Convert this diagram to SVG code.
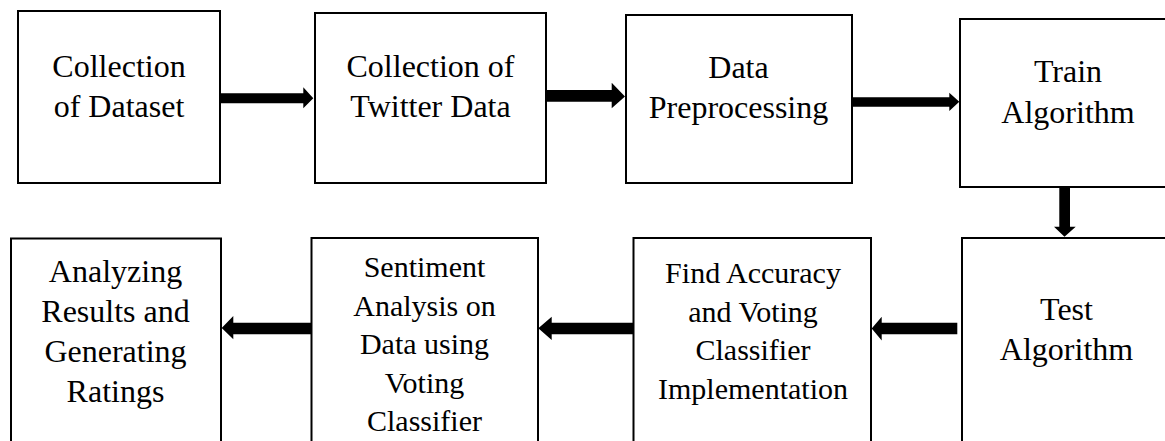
<svg xmlns="http://www.w3.org/2000/svg" width="1165" height="441" viewBox="0 0 1165 441">
  <style>
    .box { fill: #ffffff; stroke: #000000; stroke-width: 2; }
    .lbl { font-family: "Liberation Serif", "Times New Roman", serif; font-size: 32px; fill: #000000; text-anchor: middle; }
    .sm { font-size: 30px; }
    .arrow { fill: #000000; stroke: none; }
  </style>
  <rect width="1165" height="441" fill="#ffffff"/>

  <!-- top row -->
  <g id="node-collection-dataset">
    <rect class="box" x="18" y="11" width="202" height="172"/>
    <text class="lbl" x="119" y="77">Collection</text>
    <text class="lbl" x="119" y="117">of Dataset</text>
  </g>
  <g id="node-collection-twitter">
    <rect class="box" x="315" y="13" width="231" height="170"/>
    <text class="lbl" x="430.5" y="77">Collection of</text>
    <text class="lbl" x="430.5" y="117">Twitter Data</text>
  </g>
  <g id="node-preprocessing">
    <rect class="box" x="626" y="15" width="226" height="168"/>
    <text class="lbl" x="738.5" y="78">Data</text>
    <text class="lbl" x="738.5" y="118">Preprocessing</text>
  </g>
  <g id="node-train">
    <rect class="box" x="960" y="19" width="220" height="168"/>
    <text class="lbl" x="1068" y="82">Train</text>
    <text class="lbl" x="1068" y="123">Algorithm</text>
  </g>

  <!-- bottom row -->
  <g id="node-test">
    <rect class="box" x="962" y="238" width="220" height="220"/>
    <text class="lbl" x="1066.5" y="320">Test</text>
    <text class="lbl" x="1066.5" y="360">Algorithm</text>
  </g>
  <g id="node-accuracy">
    <rect class="box" x="633.5" y="238" width="237.5" height="220"/>
    <text class="lbl sm" x="753" y="283">Find Accuracy</text>
    <text class="lbl sm" x="753" y="321.7">and Voting</text>
    <text class="lbl sm" x="753" y="360.3">Classifier</text>
    <text class="lbl sm" x="753" y="399">Implementation</text>
  </g>
  <g id="node-sentiment">
    <rect class="box" x="311.5" y="238" width="226.5" height="220"/>
    <text class="lbl sm" x="424.5" y="277">Sentiment</text>
    <text class="lbl sm" x="424.5" y="315.5">Analysis on</text>
    <text class="lbl sm" x="424.5" y="354">Data using</text>
    <text class="lbl sm" x="424.5" y="392.5">Voting</text>
    <text class="lbl sm" x="424.5" y="431">Classifier</text>
  </g>
  <g id="node-analyzing">
    <rect class="box" x="11" y="238.5" width="210" height="220"/>
    <text class="lbl" x="115.5" y="281.7">Analyzing</text>
    <text class="lbl" x="115.5" y="321.7">Results and</text>
    <text class="lbl" x="115.5" y="361.7">Generating</text>
    <text class="lbl" x="115.5" y="401.7">Ratings</text>
  </g>

  <!-- block arrows between steps -->
  <g id="connectors">
    <polygon class="arrow" points="220,93.3 303.3,93.3 303.3,87.3 313.3,98.3 303.3,108.3 303.3,103.3 220,103.3"/>
    <polygon class="arrow" points="546,90 611.7,90 611.7,82.7 625,96.5 611.7,108.3 611.7,101.7 546,101.7"/>
    <polygon class="arrow" points="852,97.3 949.3,97.3 949.3,92.7 959.3,101.8 949.3,111 949.3,106.7 852,106.7"/>
    <polygon class="arrow" points="1059.3,187 1070,187 1070,226.7 1075.7,226.7 1064.5,236.7 1054,226.7 1059.3,226.7"/>
    <polygon class="arrow" points="957.3,322.7 881.7,322.7 881.7,316.7 871.7,328.5 881.7,340.5 881.7,334.3 957.3,334.3"/>
    <polygon class="arrow" points="633.5,322.7 551.7,322.7 551.7,316.7 538.3,328.3 551.7,340 551.7,334.3 633.5,334.3"/>
    <polygon class="arrow" points="311.5,322.7 233.3,322.7 233.3,316 221.7,328 233.3,339.3 233.3,334.3 311.5,334.3"/>
  </g>
</svg>
